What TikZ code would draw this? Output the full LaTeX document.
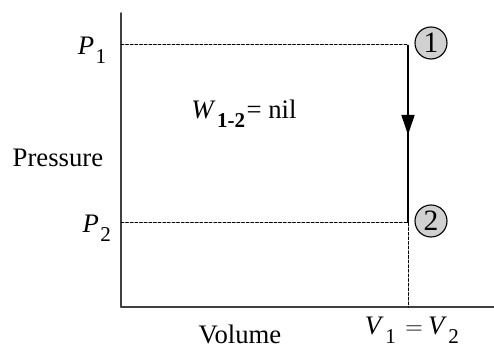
\documentclass[tikz,border=0pt]{standalone}
\usepackage{fontspec}
\setmainfont{Liberation Serif}
\usetikzlibrary{arrows.meta,calc}
\usepackage{tkz-euclide}

\newcommand{\labsub}[2]{\textit{#1}\kern1pt\raisebox{-0.7ex}{\fontsize{15}{15}\selectfont #2}}

\tikzset{
  axisline/.style={line width=1.1pt,color=black!75},
  guide/.style={line width=0.7pt,dashed,dash pattern=on 2pt off 1.3pt},
  statebox/.style={circle,draw,line width=0.8pt,fill=black!18,minimum size=0.8cm,inner sep=0pt,font=\fontsize{21}{21}\selectfont},
  lbl/.style={font=\fontsize{19}{21}\selectfont}
}

\begin{document}
\begin{tikzpicture}
\useasboundingbox (0,0) rectangle (12.35,8.7);
\tkzDefPoints{3.025/1.025/O,3.025/8.375/T,12.35/1.025/R} % The axes.
\tkzDefPoints{3.025/7.575/A,3.025/3.125/E,10.2/7.575/B,10.2/3.125/C,10.2/1.025/D,10.2/5.325/M}

\tkzDrawSegments[axisline](O,T O,R)
\tkzDrawSegments[guide](A,B E,C C,D)
\draw[line width=1.5pt] (B) -- (C);
\draw[line width=1.5pt,-{Triangle[length=0.5cm,width=0.32cm]}] (B) -- (M);

\node[statebox] (s1) at (10.775,7.625) {1};
\node[statebox] (s2) at (10.775,3.175) {2};

\node[lbl] (p1) at (2.3,7.45) {\labsub{P}{1}};
\node[lbl] (p2) at (2.42,3.0) {\labsub{P}{2}};
\node[lbl] (pres) at (1.45,4.75) {Pressure};
\node[lbl,anchor=base] (vol) at (6.0,0.1) {Volume};
\node[lbl] (vv) at (10.3,0.45) {\labsub{V}{1}\kern2pt${}={}$\kern-1pt\labsub{V}{2}};
\node[lbl] (work) at (6.1,5.85) {\labsub{W}{\textbf{1-2}}\kern1pt = nil};
\end{tikzpicture}
\end{document}
